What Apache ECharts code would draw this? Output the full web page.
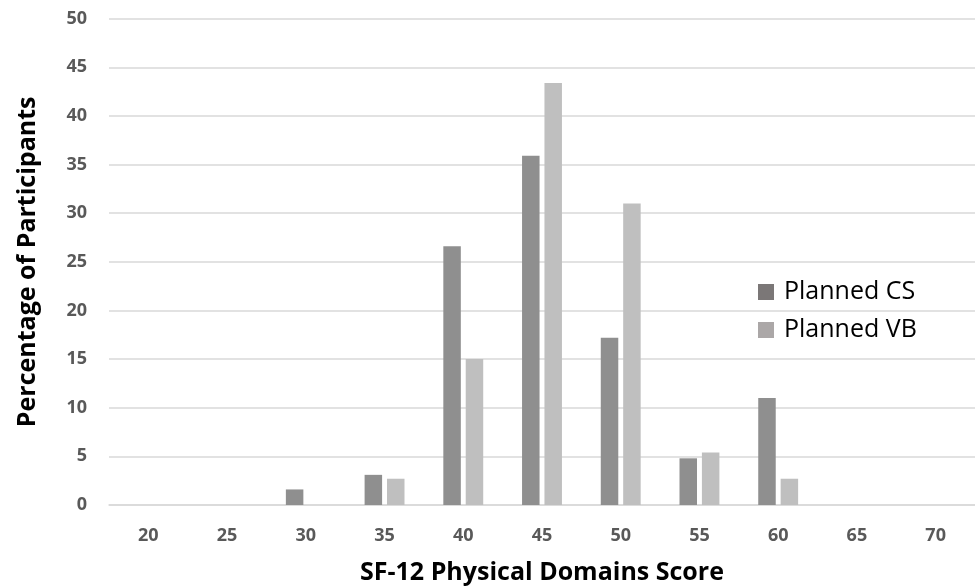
<!DOCTYPE html>
<html>
<head>
<meta charset="utf-8">
<title>SF-12 Physical Domains Score</title>
<script src="https://cdn.jsdelivr.net/npm/echarts@6/dist/echarts.min.js"></script>
<style>
  html, body { margin: 0; padding: 0; background: #fff; }
  #chart { width: 975px; height: 587px; }
</style>
</head>
<body>
<div id="chart"></div>
<script>
// SF-12 score bins (x axis) and share of participants per planned delivery mode
const scoreBins = ['20', '25', '30', '35', '40', '45', '50', '55', '60', '65', '70'];
const plannedCS = [0, 0, 1.6, 3.1, 26.6, 35.9, 17.2, 4.8, 11.0, 0, 0];
const plannedVB = [0, 0, 0, 2.7, 15.0, 43.4, 31.0, 5.4, 2.7, 0, 0];
const yTicks = [0, 5, 10, 15, 20, 25, 30, 35, 40, 45, 50];

const FONT = '"Open Sans", "DejaVu Sans", sans-serif';

const chart = echarts.init(document.getElementById('chart'), null, { renderer: 'canvas' });

chart.setOption({
  animation: false,
  backgroundColor: '#ffffff',
  // fixed plot rectangle; keep the axis titles from shrinking it
  grid: { left: 109, right: 0, top: 18.7, bottom: 82, containLabel: false, outerBoundsMode: 'none' },
  legend: {
    orient: 'vertical',
    left: 753,
    top: 273,
    itemWidth: 16,
    itemHeight: 16,
    itemGap: 10,
    icon: 'rect',
    textStyle: { fontFamily: FONT, fontSize: 25, color: '#000', lineHeight: 28, padding: [0, 0, 0, 5] },
    data: [
      { name: 'Planned CS', itemStyle: { color: '#7b7777' } },
      { name: 'Planned VB', itemStyle: { color: '#aba7a7' } }
    ]
  },
  xAxis: {
    type: 'category',
    data: scoreBins,
    name: 'SF-12 Physical Domains Score',
    nameLocation: 'middle',
    nameGap: 55,
    nameTextStyle: { fontFamily: FONT, fontSize: 25, fontWeight: 'bold', color: '#000' },
    axisLine: { show: true, lineStyle: { color: '#d9d9d9', width: 1.5 } },
    axisTick: { show: false },
    axisLabel: { fontFamily: FONT, fontSize: 18, fontWeight: 'bold', color: '#595959', margin: 22 }
  },
  yAxis: {
    type: 'value',
    min: yTicks[0],
    max: yTicks[yTicks.length - 1],
    interval: 5,
    name: 'Percentage of Participants',
    nameLocation: 'middle',
    nameGap: 69,
    nameTextStyle: { fontFamily: FONT, fontSize: 25, fontWeight: 'bold', color: '#000' },
    axisLine: { show: false },
    axisTick: { show: false },
    splitLine: { lineStyle: { color: '#d9d9d9', width: 1.5 } },
    axisLabel: { fontFamily: FONT, fontSize: 18, fontWeight: 'bold', color: '#595959', margin: 22 }
  },
  series: [
    {
      name: 'Planned CS',
      type: 'bar',
      data: plannedCS,
      barWidth: 17.5,
      barGap: '28%',
      itemStyle: { color: '#8f8f8f' }
    },
    {
      name: 'Planned VB',
      type: 'bar',
      data: plannedVB,
      barWidth: 17.5,
      barGap: '28%',
      itemStyle: { color: '#bfbfbf' }
    }
  ]
});
</script>
</body>
</html>
